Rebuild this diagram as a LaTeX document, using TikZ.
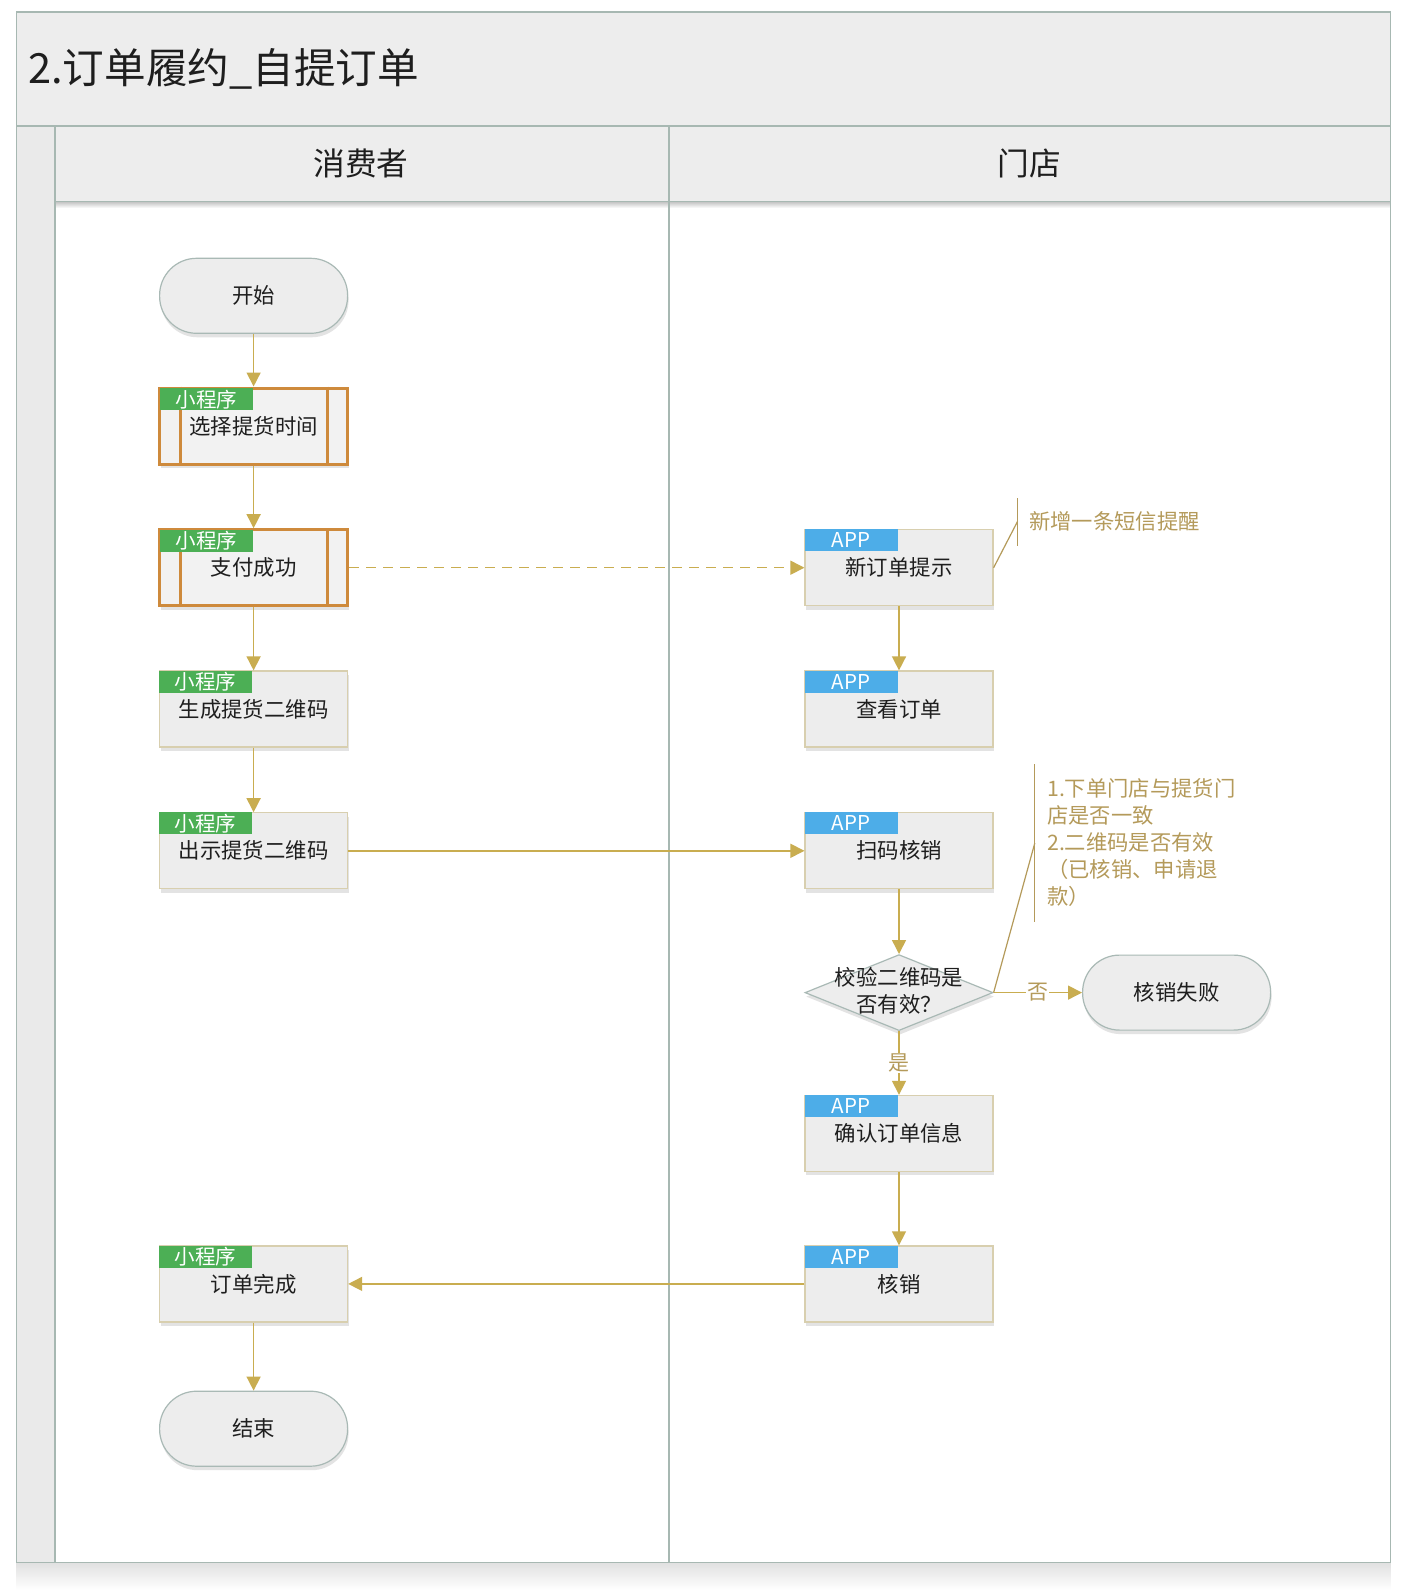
\documentclass[tikz,border=0pt]{standalone}
\usepackage{fontspec}
\setmainfont{Noto Sans CJK SC}
\usetikzlibrary{arrows.meta,shapes.geometric,shadows}
\definecolor{frameC}{HTML}{A7B8B2}
\definecolor{bandC}{HTML}{EDEDED}
\definecolor{stripC}{HTML}{EAEAEA}
\definecolor{boxC}{HTML}{EDEDED}
\definecolor{boxB}{HTML}{D8CFAF}
\definecolor{edgeC}{HTML}{C9AD50}
\definecolor{noteC}{HTML}{B49A5A}
\definecolor{orangeC}{HTML}{CE8A3C}
\definecolor{greenC}{HTML}{4CAF55}
\definecolor{blueC}{HTML}{4DADE8}
\definecolor{termB}{HTML}{A9B9B5}
\definecolor{txtC}{HTML}{1E1E1E}
\tikzset{
  shd/.style={drop shadow={shadow xshift=1pt,shadow yshift=-4pt,opacity=0.22}},
  box/.style={draw=boxB, line width=1.2pt, fill=boxC, minimum width=188pt, minimum height=76pt,
    inner sep=0pt, font=\fontsize{21.4}{25}\selectfont, text=txtC, shd},
  obox/.style={box, draw=orangeC, line width=3pt, fill=black!5},
  term/.style={draw=termB, line width=1.2pt, fill=boxC, minimum width=188pt, minimum height=75pt,
    rounded corners=37pt, inner sep=0pt, font=\fontsize{21.4}{25}\selectfont, text=txtC, shd},
  dia/.style={diamond, draw=termB, line width=1.2pt, fill=boxC, minimum width=188pt, minimum height=76pt,
    aspect=2.47, inner sep=0pt, shd},
  tagbase/.style={anchor=north west, minimum width=93pt, minimum height=22pt, inner sep=0pt,
    text=white, font=\fontsize{20.5}{21}\selectfont},
  tagG/.style={tagbase, fill=greenC},
  tagB/.style={tagbase, fill=blueC},
  edge/.style={draw=edgeC, line width=1.5pt, -{Triangle[length=14pt,width=14pt]}},
  note/.style={draw=noteC, line width=1.2pt},
  notetxt/.style={text=noteC, font=\fontsize{21.3}{27}\selectfont, inner sep=0pt, align=left},
  lbl/.style={fill=white, text=noteC, font=\fontsize{21}{24}\selectfont, inner sep=1pt},
  frm/.style={draw=frameC, line width=1.5pt}
}
\begin{document}
\begin{tikzpicture}[x=1pt,y=-1pt]
\useasboundingbox (0,0) rectangle (1414,1594);
\fill[white] (0,0) rectangle (1414,1594);
% bottom shadow
\shade[top color=black!12, bottom color=white] (16.3,1562.4) rectangle (1390.6,1590);
% title band
\fill[bandC] (16.3,12.2) rectangle (1390.6,126);
% header band
\fill[bandC] (54.9,126) rectangle (1390.6,201.3);
\shade[top color=black!25, bottom color=white] (54.9,201.3) rectangle (1390.6,208);
% left strip
\fill[stripC] (16.3,126) rectangle (54.9,1562.4);
% frame lines
\draw[frm] (16.3,12.2) rectangle (1390.6,1562.4);
\draw[frm] (16.3,126) -- (1390.6,126);
\draw[frm] (54.9,126) -- (54.9,1562.4);
\draw[frm] (54.9,201.3) -- (1390.6,201.3);
\draw[frm] (668.9,126) -- (668.9,1562.4);
% titles
\node[anchor=west, inner sep=0pt, font=\fontsize{41.6}{44}\selectfont, text=txtC] (title) at (28,69) {2.订单履约\_自提订单};
\node[font=\fontsize{31.7}{34}\selectfont, text=txtC] (laneA) at (361,163) {消费者};
\node[font=\fontsize{31.7}{34}\selectfont, text=txtC] (laneB) at (1029,163) {门店};

% consumer lane
\node[term] (start) at (253.6,295.8) {开始};
\node[obox] (sel) at (253.6,426) {选择提货时间};
\draw[orangeC, line width=3pt] ([xshift=22pt]sel.north west) -- ([xshift=22pt]sel.south west);
\draw[orangeC, line width=3pt] ([xshift=-22pt]sel.north east) -- ([xshift=-22pt]sel.south east);
\node[tagG] (tsel) at ([xshift=1.5pt,yshift=-1.5pt]sel.north west) {小程序};
\node[obox] (pay) at (253.6,567.7) {支付成功};
\draw[orangeC, line width=3pt] ([xshift=22pt]pay.north west) -- ([xshift=22pt]pay.south west);
\draw[orangeC, line width=3pt] ([xshift=-22pt]pay.north east) -- ([xshift=-22pt]pay.south east);
\node[tagG] (tpay) at ([xshift=1.5pt,yshift=-1.5pt]pay.north west) {小程序};
\node[box] (gen) at (253.6,709) {生成提货二维码};
\node[tagG] (tgen) at (gen.north west) {小程序};
\node[box] (show) at (253.6,850.8) {出示提货二维码};
\node[tagG] (tshow) at (show.north west) {小程序};
\node[box] (done) at (253.6,1283.9) {订单完成};
\node[tagG] (tdone) at (done.north west) {小程序};
\node[term] (fin) at (253.6,1428.7) {结束};

% store lane
\node[box] (neworder) at (899,567.7) {新订单提示};
\node[tagB] (tneworder) at (neworder.north west) {APP};
\node[box] (view) at (899,709) {查看订单};
\node[tagB] (tview) at (view.north west) {APP};
\node[box] (scan) at (899,850.8) {扫码核销};
\node[tagB] (tscan) at (scan.north west) {APP};
\node[dia] (check) at (899,992.6) {};
\node[align=center, font=\fontsize{21.4}{27}\selectfont, text=txtC, inner sep=0pt] (checkt) at (899,991) {校验二维码是\\否有效？};
\node[term] (fail) at (1176.6,992.6) {核销失败};
\node[box] (confirm) at (899,1133.4) {确认订单信息};
\node[tagB] (tconfirm) at (confirm.north west) {APP};
\node[box] (verify) at (899,1283.9) {核销};
\node[tagB] (tverify) at (verify.north west) {APP};

% edges
\draw[edge] (start) -- (sel);
\draw[edge] (sel) -- (pay);
\draw[edge] (pay) -- (gen);
\draw[edge] (gen) -- (show);
\draw[edge, dash pattern=on 10pt off 7pt] (pay) -- (neworder);
\draw[edge] (show) -- (scan);
\draw[edge] (neworder) -- (view);
\draw[edge] (scan) -- (check);
\draw[edge] (check) -- node[lbl, pos=0.5] (lno) {否} (fail);
\draw[edge] (check) -- node[lbl, pos=0.5] (lyes) {是} (confirm);
\draw[edge] (confirm) -- (verify);
\draw[edge] (verify) -- (done);
\draw[edge] (done) -- (fin);

% notes
\coordinate (n1t) at (1017.5,498);
\coordinate (n1b) at (1017.5,546);
\coordinate (n1m) at (1017.5,521.5);
\draw[note] (n1t) -- (n1b);
\draw[note] (neworder.east) -- (n1m);
\node[notetxt, anchor=west] (note1) at (1029,521.5) {新增一条短信提醒};
\coordinate (n2t) at (1034.8,764);
\coordinate (n2b) at (1034.8,922);
\coordinate (n2m) at (1034.8,843);
\draw[note] (n2t) -- (n2b);
\draw[note] (check.east) -- (n2m);
\node[notetxt, anchor=north west] (note2) at (1047,778) {1.下单门店与提货门\\店是否一致\\2.二维码是否有效\\（已核销、申请退\\款）};
\end{tikzpicture}
\end{document}
